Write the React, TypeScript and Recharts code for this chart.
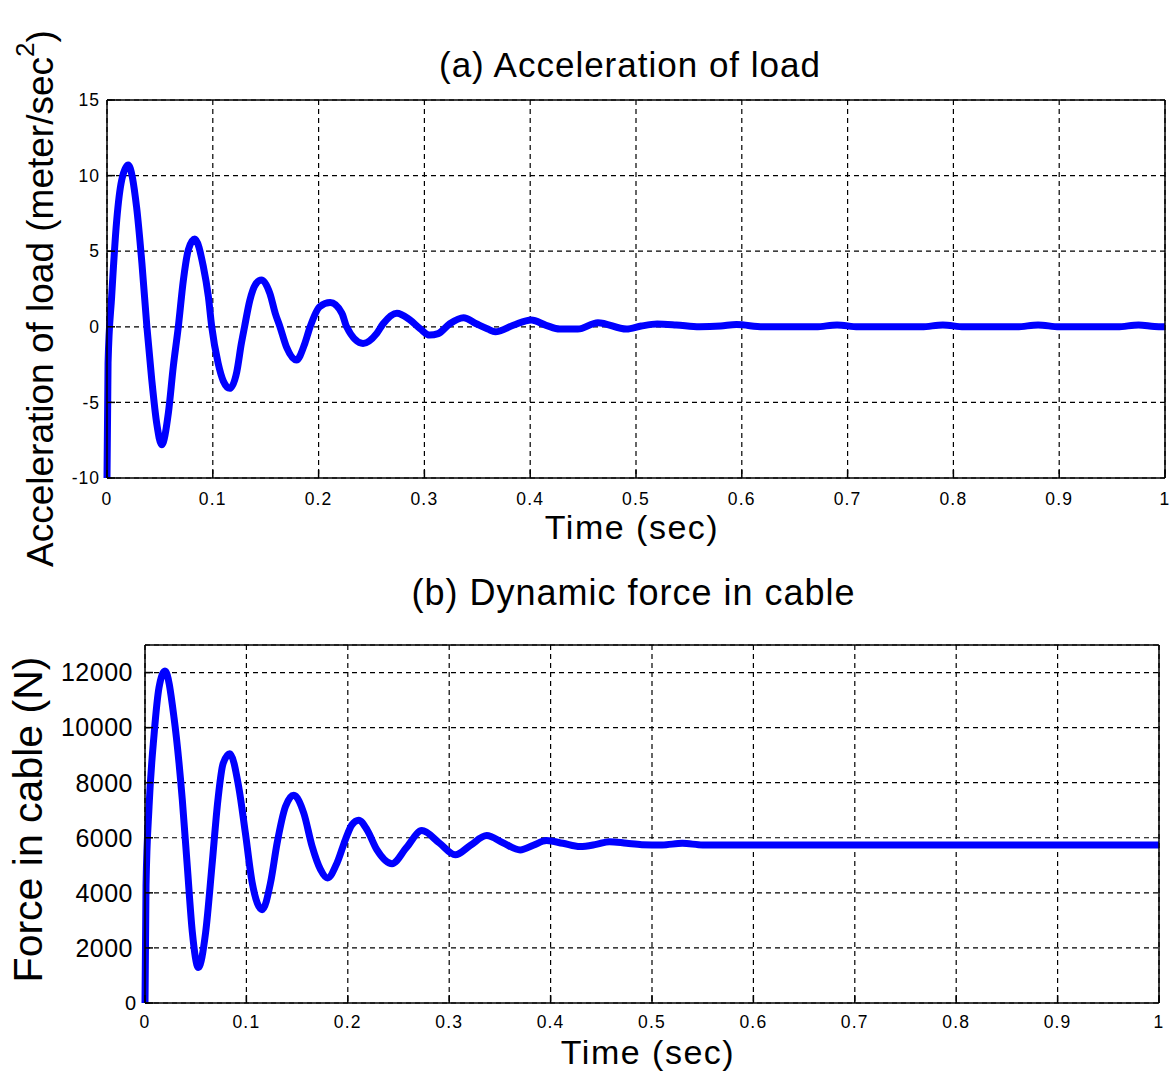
import React from 'react';
import { LineChart, Line, XAxis, YAxis, CartesianGrid } from 'recharts';

const FONT = '"Liberation Sans", Arial, Helvetica, sans-serif';

const timeTicks = [0, 0.1, 0.2, 0.3, 0.4, 0.5, 0.6, 0.7, 0.8, 0.9, 1];
const accelTicks = [-10, -5, 0, 5, 10, 15];
const forceTicks = [0, 2000, 4000, 6000, 8000, 10000, 12000];

const accelTime = [
  0, 0.001, 0.0044, 0.0092, 0.0139, 0.02, 0.028, 0.033, 0.0377, 0.0423, 0.047, 0.0517,
  0.058, 0.0627, 0.0674, 0.0722, 0.0769, 0.083, 0.091, 0.0958, 0.099, 0.105, 0.11, 0.116,
  0.1226, 0.127, 0.13, 0.135, 0.14, 0.146, 0.154, 0.159, 0.1635, 0.17, 0.179, 0.187, 0.192,
  0.201, 0.211, 0.222, 0.2265, 0.242, 0.255, 0.261, 0.274, 0.286, 0.296, 0.305, 0.313, 0.324,
  0.337, 0.349, 0.36, 0.367, 0.384, 0.401, 0.415, 0.428, 0.445, 0.464, 0.491, 0.505, 0.52,
  0.538, 0.56, 0.58, 0.595, 0.62, 0.67, 0.69, 0.71, 0.77, 0.79, 0.81, 0.86, 0.88, 0.9, 0.955,
  0.975, 0.99, 1,
];
const accelValue = [
  -10, -2.4, 2.0, 7.06, 9.7, 10.7, 7.9, 4.2, 0, -3.5, -6.4, -7.8,
  -5.7, -2.6, 0, 3.1, 5.1, 5.8, 4.0, 2.0, 0, -2.4, -3.6, -4.07,
  -3.0, -1.1, 0, 1.75, 2.76, 3.1, 2.2, 0.9, 0, -1.4, -2.2, -1.1, 0,
  1.33, 1.6, 0.9, 0, -1.1, -0.43, 0.2, 0.9, 0.47, -0.13, -0.55, -0.45, 0.2,
  0.6, 0.2, -0.15, -0.33, 0.1, 0.45, 0.1, -0.15, -0.15, 0.27, -0.15, 0.05, 0.18,
  0.12, 0.0, 0.05, 0.15, 0.0, 0.0, 0.12, 0.0, 0.0, 0.12, 0.0, 0.0, 0.12, 0.0, 0.0,
  0.12, 0.02, 0.0,
];

const forceTime = [
  0, 0.001, 0.004, 0.009, 0.0138, 0.0197, 0.0286, 0.0368, 0.0417, 0.0467, 0.0526,
  0.0598, 0.066, 0.0719, 0.077, 0.0837, 0.0924, 0.099, 0.1057, 0.1156, 0.1238, 0.1303,
  0.1385, 0.1467, 0.1566, 0.1648, 0.173, 0.18, 0.1894, 0.1976, 0.204, 0.2107, 0.219,
  0.2286, 0.2436, 0.258, 0.273, 0.29, 0.306, 0.321, 0.337, 0.353, 0.37, 0.383, 0.396,
  0.412, 0.429, 0.445, 0.458, 0.475, 0.49, 0.51, 0.53, 0.55, 0.6, 1,
];
const forceValue = [
  0, 4250, 7130, 9770, 11450, 12060, 10370, 7370, 4965, 2566, 1290,
  2566, 4965, 7370, 8690, 9050, 7850, 6170, 4370, 3390, 4370, 5810,
  7130, 7545, 6890, 5690, 4850, 4540, 5090, 5930, 6470, 6640, 6290,
  5570, 5060, 5650, 6260, 5820, 5380, 5730, 6080, 5820, 5560, 5730, 5900,
  5800, 5680, 5760, 5860, 5800, 5750, 5740, 5800, 5740, 5740, 5740,
];

const accelData = accelTime.map((t, i) => ({ t, v: accelValue[i] }));
const forceData = forceTime.map((t, i) => ({ t, v: forceValue[i] }));

const fmtTime = (v: number) => String(v);

const axisStroke = { stroke: '#000', strokeWidth: 1.5 };

const titleLabel = (text: string, dx: number, dy: number, size: number, spacing: number) => (props: any) => {
  const vb = props.viewBox || {};
  return (
    <text x={vb.x + vb.width / 2 + dx} y={vb.y + vb.height + dy} textAnchor="middle"
      fontFamily={FONT} fontSize={size} letterSpacing={spacing} fill="#000">{text}</text>
  );
};

const xLabel = (dx: number, dy: number) => (props: any) => {
  const vb = props.viewBox || {};
  return (
    <text x={vb.x + vb.width / 2 + dx} y={vb.y + dy} textAnchor="middle"
      fontFamily={FONT} fontSize={34} letterSpacing={1.5} fill="#000">Time (sec)</text>
  );
};

const yLabelA = (props: any) => {
  const vb = props.viewBox || {};
  const x = vb.x + vb.width - 54;
  const y = vb.y + vb.height + 89;
  return (
    <text x={x} y={y} transform={`rotate(-90 ${x} ${y})`} textAnchor="start"
      fontFamily={FONT} fontSize={37} fill="#000">
      Acceleration of load (meter/sec
      <tspan dy={-19} fontSize={26}>2</tspan>
      <tspan dy={19} fontSize={37}>)</tspan>
    </text>
  );
};

const yLabelB = (props: any) => {
  const vb = props.viewBox || {};
  const x = vb.x + vb.width - 103;
  const y = vb.y + vb.height / 2 - 4.5;
  return (
    <text x={x} y={y} transform={`rotate(-90 ${x} ${y})`} textAnchor="middle"
      fontFamily={FONT} fontSize={41} fill="#000">Force in cable (N)</text>
  );
};

const forceTick = (props: any) => {
  const { x, y, payload } = props;
  const zero = payload.value === 0;
  return (
    <text x={zero ? x + 3 : x} y={y} dy="0.355em" textAnchor="end" fontFamily={FONT}
      fontSize={zero ? 20 : 25} letterSpacing={zero ? 0 : 0.5} fill="#000">
      {String(payload.value)}
    </text>
  );
};

export default function App() {
  return (
    <div style={{ position: 'absolute', left: 0, top: 0, width: 1172, height: 1073, background: '#fff' }}>
      <div style={{ position: 'absolute', left: 0, top: 0 }}>
        <LineChart width={1172} height={582} data={accelData}
          margin={{ top: 99, right: 6, bottom: 22, left: 47 }}>
          <CartesianGrid stroke="#000" strokeDasharray="5 4" strokeWidth={1.2} />
          <XAxis dataKey="t" type="number" domain={[0, 1]} ticks={timeTicks} interval={0}
            tickFormatter={fmtTime} height={82} tickSize={-8} tickMargin={23}
            axisLine={axisStroke} tickLine={axisStroke}
            tick={{ fill: '#000', fontSize: 17.5, fontFamily: FONT, letterSpacing: 1.2 }}
            label={xLabel(-4, 61)} />
          <XAxis xAxisId="top" orientation="top" dataKey="t" type="number" domain={[0, 1]}
            ticks={timeTicks} interval={0} height={1} tickSize={-8} tick={false}
            axisLine={axisStroke} tickLine={axisStroke}
            label={titleLabel('(a) Acceleration of load', -6, -23, 35, 1)} />
          <YAxis type="number" domain={[-10, 15]} ticks={accelTicks} interval={0} width={60}
            allowDataOverflow tickSize={-8} tickMargin={15}
            axisLine={axisStroke} tickLine={axisStroke}
            tick={{ fill: '#000', fontSize: 17.5, fontFamily: FONT, letterSpacing: 1 }}
            label={yLabelA} />
          <YAxis yAxisId="right" orientation="right" type="number" domain={[-10, 15]}
            ticks={accelTicks} interval={0} width={1} tickSize={-8} tick={false}
            axisLine={axisStroke} tickLine={axisStroke} />
          <Line dataKey="v" type="monotone" stroke="#0000ff" strokeWidth={7} dot={false}
            strokeLinejoin="round" isAnimationActive={false} />
        </LineChart>
      </div>
      <div style={{ position: 'absolute', left: 0, top: 565 }}>
        <LineChart width={1172} height={508} data={forceData}
          margin={{ top: 79, right: 12, bottom: 0, left: 45 }}>
          <CartesianGrid stroke="#000" strokeDasharray="5 4" strokeWidth={1.2} />
          <XAxis dataKey="t" type="number" domain={[0, 1]} ticks={timeTicks} interval={0}
            tickFormatter={fmtTime} height={70} tickSize={-8} tickMargin={21}
            axisLine={axisStroke} tickLine={axisStroke}
            tick={{ fill: '#000', fontSize: 17.5, fontFamily: FONT, letterSpacing: 1.2 }}
            label={xLabel(-4, 61)} />
          <XAxis xAxisId="top" orientation="top" dataKey="t" type="number" domain={[0, 1]}
            ticks={timeTicks} interval={0} height={1} tickSize={-8} tick={false}
            axisLine={axisStroke} tickLine={axisStroke}
            label={titleLabel('(b) Dynamic force in cable', -18.5, -40, 36, 1)} />
          <YAxis type="number" domain={[0, 13000]} ticks={forceTicks} interval={0} width={100}
            allowDataOverflow tickSize={-8} tickMargin={20}
            axisLine={axisStroke} tickLine={axisStroke}
            tick={forceTick} label={yLabelB} />
          <YAxis yAxisId="right" orientation="right" type="number" domain={[0, 13000]}
            ticks={forceTicks} interval={0} width={1} tickSize={-8} tick={false}
            axisLine={axisStroke} tickLine={axisStroke} />
          <Line dataKey="v" type="monotone" stroke="#0000ff" strokeWidth={7} dot={false}
            strokeLinejoin="round" isAnimationActive={false} />
        </LineChart>
      </div>
    </div>
  );
}
